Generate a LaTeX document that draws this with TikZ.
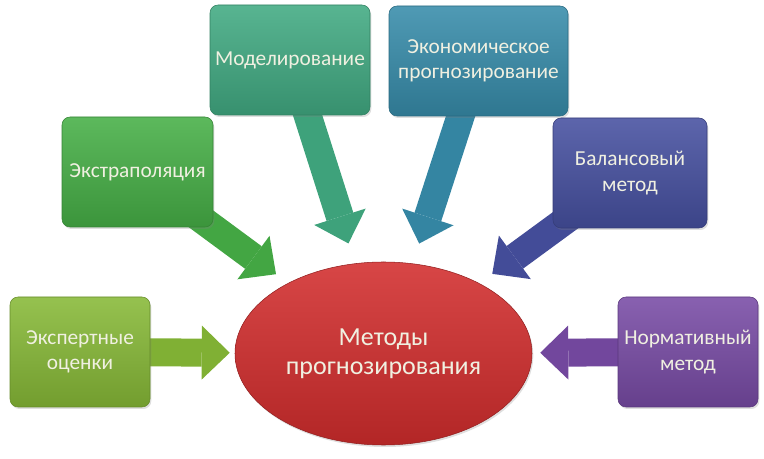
\documentclass[tikz,border=0pt]{standalone}
\usepackage{fontspec}
\setmainfont{Carlito}
\usepackage{tikz}
\usetikzlibrary{shapes.geometric,arrows.meta,backgrounds,shadows}
\usepackage{xcolor}
\definecolor{expc}{RGB}{135,185,55}
\definecolor{extc}{RGB}{70,175,70}
\definecolor{modc}{RGB}{65,170,130}
\definecolor{ecoc}{RGB}{55,140,170}
\definecolor{balc}{RGB}{70,80,160}
\definecolor{norc}{RGB}{120,75,165}
\definecolor{elc}{RGB}{210,45,45}
\definecolor{txt}{RGB}{240,240,225}
\newcommand{\method}[7] {
    \node[box,minimum width={#4*0.75pt},top color={#5!88!white},bottom color={#5!85!black},draw={#5!75!black}] (#1) at ({#2}, {#3}) {#6};
    \begin{pgfonlayer}{background}
        \draw[flow,draw={#5!95!black},shorten >={#7*0.75pt}] (#1.center) -- (ell);
    \end{pgfonlayer}
}

\begin{document}
\begin{tikzpicture}[
        x=0.75pt,
        y=-0.75pt,
        box/.style={
            rectangle,
            rounded corners=6pt,
            minimum height=110*0.75pt,
            inner sep=0pt,
            align=center,
            text=txt,
            font=\fontsize{16}{19}\selectfont,
            drop shadow={shadow xshift=1pt,shadow yshift=-1.5pt,opacity=.25}
        },
        flow/.style={
            line width=21pt,
            -{Triangle[length=21pt,width=40.5pt,line width=0pt]}
        }
    ]
    \useasboundingbox (0,0) rectangle (764,459);
    \node[ellipse,minimum width=297*0.75pt,minimum height=183*0.75pt,inner sep=0pt,
        top color=elc!88!white,bottom color=elc!85!black,draw=elc!70!black,
        align=center,text=txt,font=\fontsize{19.5}{22}\selectfont,
        drop shadow={shadow xshift=1pt,shadow yshift=-1.5pt,opacity=.25}]
        (ell) at (383.5, 353.5) {Методы\\прогнозирования};
    \method{exp}{80}{352}{140}{expc}{Экспертные\\оценки}{5}
    \method{extr}{137.5}{172}{151}{extc}{Экстраполяция}{15}
    \method{mod}{290}{60}{160}{modc}{Моделирование}{21}
    \method{eco}{478.5}{61}{179}{ecoc}{Экономическое\\прогнозирование}{21}
    \method{bal}{630}{173}{154}{balc}{Балансовый\\метод}{16}
    \method{nor}{688}{352}{140}{norc}{Нормативный\\метод}{8}
\end{tikzpicture}
\end{document}
